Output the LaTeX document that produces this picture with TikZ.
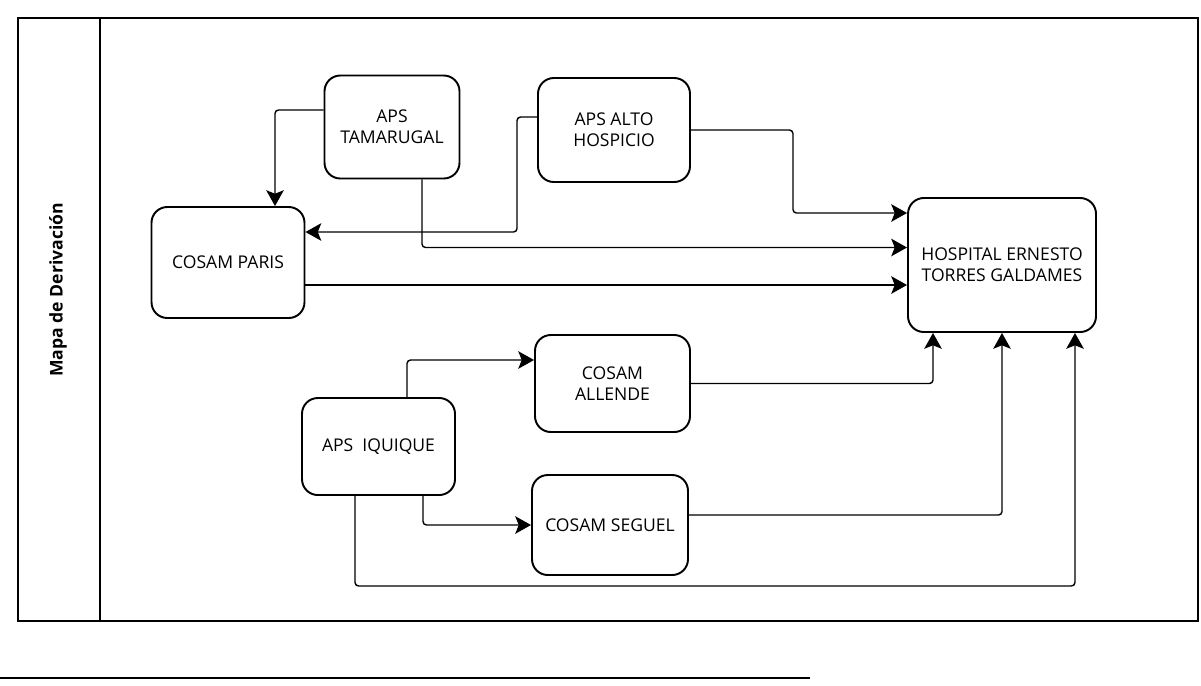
\documentclass[tikz,border=0pt]{standalone}
\usepackage{fontspec}
\setmainfont{Open Sans}
\usepackage{tikz}
\usetikzlibrary{arrows.meta, positioning, calc}

\begin{document}
\begin{tikzpicture}[
    box/.style = {rectangle, draw=black, line width=1.1pt, rounded corners=9pt, align=center, font=\fontsize{10}{12}\selectfont, inner sep=2pt},
    arrow/.style = {draw=black, line width=0.8pt, rounded corners=2pt, -{Stealth[length=9pt, width=10pt, inset=2pt]}}
]
\useasboundingbox (0,0) rectangle (24.02,-13.70);

% Frame
\draw[line width=0.9pt] (0.36,-0.36) rectangle (23.96,-12.42);
\draw[line width=0.9pt] (2.0,-0.36) -- (2.0,-12.42);
\node (title) [rotate=90, font=\bfseries\fontsize{10}{12}\selectfont] at (1.16,-5.80) {Mapa de Derivación};

% Row 1
\node (tam) [box, minimum width=2.7cm, minimum height=2.06cm] at (7.84,-2.54) {APS\\TAMARUGAL};
\node (alto) [box, minimum width=3.04cm, minimum height=2.08cm] at (12.28,-2.60) {APS ALTO\\HOSPICIO};

% Row 2
\node (paris) [box, minimum width=3.06cm, minimum height=2.22cm] at (4.56,-5.25) {COSAM PARIS};
\node (hosp) [box, minimum width=3.76cm, minimum height=2.68cm] at (20.04,-5.30) {HOSPITAL ERNESTO\\TORRES GALDAMES};

% Row 3
\node (all) [box, minimum width=3.10cm, minimum height=1.94cm] at (12.25,-7.67) {COSAM\\ALLENDE};
\node (iq) [box, minimum width=3.06cm, minimum height=1.94cm] at (7.57,-8.93) {APS\ \ IQUIQUE};
\node (seg) [box, minimum width=3.12cm, minimum height=2.0cm] at (12.20,-10.50) {COSAM SEGUEL};

% Arrows
\draw [arrow] ([yshift=0.34cm]tam.west) -| ([xshift=0.94cm]paris.north);
\draw [arrow] ([yshift=0.26cm]alto.west) -- ++(-0.4,0) |- ([yshift=0.61cm]paris.east);
\draw [arrow] ([xshift=0.6cm]tam.south) |- ([yshift=0.35cm]hosp.west);
\draw [arrow] (alto.east) -- ++(2.04,0) |- ([yshift=1.04cm]hosp.west);
\draw [arrow] ([yshift=-0.45cm]paris.east) -- ([yshift=-0.45cm]paris.east -| hosp.west);

\draw [arrow] ([xshift=0.57cm]iq.north) |- ([yshift=0.47cm]all.west);
\draw [arrow] (all.east) -| ([xshift=-1.38cm]hosp.south);
\draw [arrow] ([xshift=0.89cm]iq.south) |- (seg.west);
\draw [arrow] ([yshift=0.2cm]seg.east) -| (hosp.south);
\draw [arrow] ([xshift=-0.47cm]iq.south) -- ++(0,-1.8) -| ([xshift=1.46cm]hosp.south);

% Page rule
\draw[line width=0.9pt] (0,-13.56) -- (16.2,-13.56);

\end{tikzpicture}
\end{document}
